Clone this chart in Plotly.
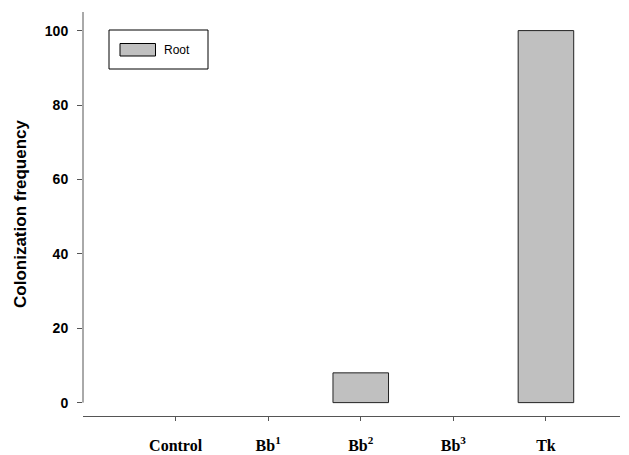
import plotly.graph_objects as go

categories = ["Control", "Bb1", "Bb2", "Bb3", "Tk"]
tick_labels = ["Control", "Bb<sup>1</sup>", "Bb<sup>2</sup>", "Bb<sup>3</sup>", "Tk"]
root_values = [0, 0, 8, 0, 100]
y_ticks = [0, 20, 40, 60, 80, 100]
series_name = "Root"

W, H = 629, 455
L, R, T, B = 83, 9, 12, 39
pw, ph = W - L - R, H - T - B

def px(x):
    return (x - L) / pw

def py(y):
    return (H - B - y) / ph

fig = go.Figure()
fig.add_trace(go.Bar(
    x=categories, y=root_values, name=series_name, width=0.6,
    marker=dict(color="#C0C0C0",
                line=dict(color="#222222", width=[1 if v > 0 else 0 for v in root_values])),
    showlegend=False,
))

axis_color = "#555555"

# left axis line from 0 up to the top
fig.add_shape(type="line", xref="paper", yref="y", x0=0, x1=0, y0=0, y1=105,
              line=dict(color=axis_color, width=1))

# legend box
fig.add_shape(type="rect", xref="paper", yref="paper",
              x0=px(109), x1=px(208), y0=py(69), y1=py(30),
              line=dict(color="black", width=1), fillcolor="white")
fig.add_shape(type="rect", xref="paper", yref="paper",
              x0=px(120), x1=px(155.5), y0=py(56), y1=py(43.5),
              line=dict(color="black", width=1), fillcolor="#C0C0C0")
fig.add_annotation(xref="paper", yref="paper", x=px(162), y=py(50),
                   text=series_name, showarrow=False, xanchor="left", yanchor="middle",
                   font=dict(family="Arial, Liberation Sans", size=12, color="black"))

fig.update_layout(
    width=W, height=H,
    margin=dict(l=L, r=R, t=T, b=B, pad=0, autoexpand=False),
    paper_bgcolor="white", plot_bgcolor="white",
    xaxis=dict(
        type="category", categoryorder="array", categoryarray=categories,
        range=[-1, 4.8], automargin=False,
        tickmode="array", tickvals=categories, ticktext=tick_labels,
        showline=True, linecolor=axis_color, linewidth=1,
        ticks="outside", ticklen=4, tickcolor=axis_color,
        ticklabelstandoff=11,
        showgrid=False, zeroline=False,
        tickfont=dict(family="Times New Roman, Liberation Serif", size=16, color="black", weight="bold"),
    ),
    yaxis=dict(
        range=[-3.6, 105], automargin=False,
        tickmode="array", tickvals=y_ticks,
        showline=False, showgrid=False, zeroline=False,
        ticks="outside", ticklen=5, tickcolor=axis_color,
        ticklabelstandoff=6,
        tickfont=dict(family="Arial, Liberation Sans", size=14, color="black", weight="bold"),
        title=dict(text="Colonization frequency", standoff=13,
                   font=dict(family="Arial, Liberation Sans", size=17, color="black", weight="bold")),
    ),
)

fig.write_html("out.html")
